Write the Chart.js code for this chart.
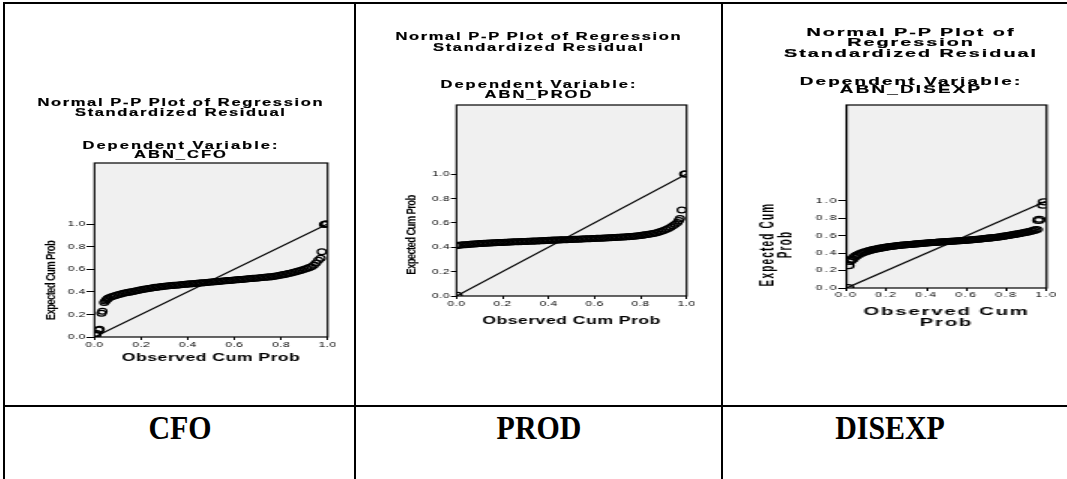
<!DOCTYPE html>
<html>
<head>
<meta charset="utf-8">
<title>Normal P-P Plots of Regression Standardized Residual</title>
<script src="https://cdn.jsdelivr.net/npm/chart.js"></script>
<style>
  html, body { margin: 0; padding: 0; background: #fff; }
  body { width: 1067px; height: 479px; overflow: hidden; position: relative; font-family: 'Liberation Sans', Arial, sans-serif; }
  .rule { position: absolute; background: #000; }
  .rule.h { left: 3px; right: 0; height: 2px; }
  .rule.v { top: 2px; bottom: 0; width: 2px; }
  .fig { position: absolute; top: 0; height: 400px; transform-origin: 0 0; }
  .ttl, .sub { position: absolute; left: 0; right: 0; text-align: center; font-weight: bold; color: #000; white-space: nowrap; -webkit-text-stroke: 0.2px #000; }
  .plot { position: absolute; }
  .plot canvas { display: block; }
  .name { position: absolute; top: 411px; font: bold 34px/34px 'Liberation Serif', 'Times New Roman', serif; color: #000; transform: translateX(-50%) scaleX(0.88); white-space: nowrap; }
</style>
</head>
<body>
  <!-- table rules -->
  <div class="rule h" style="top:2px"></div>
  <div class="rule h" style="top:405px"></div>
  <div class="rule v" style="left:3px"></div>
  <div class="rule v" style="left:354px"></div>
  <div class="rule v" style="left:721px"></div>

  <div class="fig" style="left:4px;width:234.67px;transform:scaleX(1.5)">
    <div class="ttl" style="top:96.6px;font-size:11px;line-height:10.5px;letter-spacing:1.1px;padding-left:1.1px">Normal P-P Plot of Regression<br>Standardized Residual</div>
    <div class="sub" style="top:141.4px;font-size:11px;line-height:9px;letter-spacing:1.35px;padding-left:1.35px">Dependent Variable:<br>ABN_CFO</div>
    <div class="plot" style="left:17.33px;top:150px"><canvas id="cfo" width="204" height="220"></canvas></div>
  </div>

  <div class="fig" style="left:357px;width:241.33px;transform:scaleX(1.5)">
    <div class="ttl" style="top:30.5px;font-size:11px;line-height:11px;letter-spacing:1.1px;padding-left:1.1px">Normal P-P Plot of Regression<br>Standardized Residual</div>
    <div class="sub" style="top:80.3px;font-size:11px;line-height:9.2px;letter-spacing:1.35px;padding-left:1.35px">Dependent Variable:<br>ABN_PROD</div>
    <div class="plot" style="left:25.33px;top:95px"><canvas id="prod" width="200" height="240"></canvas></div>
  </div>

  <div class="fig" style="left:723px;width:207.78px;transform:scaleX(1.8)">
    <div class="ttl" style="top:26.6px;font-size:11px;line-height:10.5px;letter-spacing:1.1px;padding-left:1.1px">Normal P-P Plot of<br>Regression<br>Standardized Residual</div>
    <div class="sub" style="top:76.6px;font-size:10.5px;line-height:8.6px;letter-spacing:1.2px;padding-left:1.2px">Dependent Variable:<br>ABN_DISEXP</div>
    <div class="plot" style="left:17.78px;top:95px"><canvas id="disexp" width="167" height="240"></canvas></div>
  </div>

  <div class="name" style="left:180px">CFO</div>
  <div class="name" style="left:538.5px">PROD</div>
  <div class="name" style="left:890px">DISEXP</div>

<script>
// ticks shared by both axes of every plot
const tickValues = [0, 0.2, 0.4, 0.6, 0.8, 1.0];
const tickLabels = ['0.0', '0.2', '0.4', '0.6', '0.8', '1.0'];
// the 45 degree reference line
const refLine = [0, 1];

// ABN_CFO: observed vs expected cumulative probability
const cfoObserved = [
  0.006, 0.010, 0.018, 0.022, 0.030, 0.034, 0.042, 0.047, 0.052, 0.056,
  0.06, 0.07, 0.08, 0.09, 0.10, 0.11, 0.12, 0.13, 0.14, 0.15,
  0.16, 0.17, 0.18, 0.19, 0.20, 0.21, 0.22, 0.23, 0.24, 0.25,
  0.26, 0.27, 0.28, 0.29, 0.30, 0.31, 0.32, 0.33, 0.34, 0.35,
  0.36, 0.37, 0.38, 0.39, 0.40, 0.41, 0.42, 0.43, 0.44, 0.45,
  0.46, 0.47, 0.48, 0.49, 0.50, 0.51, 0.52, 0.53, 0.54, 0.55,
  0.56, 0.57, 0.58, 0.59, 0.60, 0.61, 0.62, 0.63, 0.64, 0.65,
  0.66, 0.67, 0.68, 0.69, 0.70, 0.71, 0.72, 0.73, 0.74, 0.75,
  0.76, 0.77, 0.78, 0.79, 0.80, 0.81, 0.82, 0.83, 0.84, 0.85,
  0.86, 0.87, 0.88, 0.89, 0.90, 0.91, 0.92, 0.93, 0.94, 0.95,
  0.96, 0.97, 0.975, 0.985, 0.990, 0.994
];
const cfoExpected = [
  0.015, 0.030, 0.062, 0.068, 0.210, 0.228, 0.305, 0.318, 0.330, 0.338,
  0.345, 0.353, 0.360, 0.367, 0.373, 0.379, 0.385, 0.389, 0.393, 0.397,
  0.401, 0.405, 0.410, 0.414, 0.418, 0.422, 0.425, 0.429, 0.432, 0.436,
  0.439, 0.441, 0.444, 0.446, 0.449, 0.451, 0.453, 0.455, 0.457, 0.458,
  0.460, 0.462, 0.464, 0.466, 0.468, 0.470, 0.471, 0.473, 0.475, 0.477,
  0.479, 0.481, 0.482, 0.484, 0.486, 0.488, 0.490, 0.491, 0.493, 0.495,
  0.497, 0.499, 0.500, 0.502, 0.504, 0.506, 0.508, 0.509, 0.511, 0.513,
  0.515, 0.517, 0.519, 0.520, 0.522, 0.524, 0.526, 0.528, 0.530, 0.532,
  0.534, 0.537, 0.540, 0.544, 0.548, 0.552, 0.556, 0.561, 0.565, 0.570,
  0.575, 0.581, 0.587, 0.593, 0.600, 0.607, 0.614, 0.622, 0.635, 0.655,
  0.680, 0.697, 0.755, 0.995, 1.000, 1.000
];

// ABN_PROD
const prodObserved = [
  0.004,
  0.00, 0.01, 0.02, 0.03, 0.04, 0.05, 0.06, 0.07, 0.08, 0.09,
  0.10, 0.11, 0.12, 0.13, 0.14, 0.15, 0.16, 0.17, 0.18, 0.19,
  0.20, 0.21, 0.22, 0.23, 0.24, 0.25, 0.26, 0.27, 0.28, 0.29,
  0.30, 0.31, 0.32, 0.33, 0.34, 0.35, 0.36, 0.37, 0.38, 0.39,
  0.40, 0.41, 0.42, 0.43, 0.44, 0.45, 0.46, 0.47, 0.48, 0.49,
  0.50, 0.51, 0.52, 0.53, 0.54, 0.55, 0.56, 0.57, 0.58, 0.59,
  0.60, 0.61, 0.62, 0.63, 0.64, 0.65, 0.66, 0.67, 0.68, 0.69,
  0.70, 0.71, 0.72, 0.73, 0.74, 0.75, 0.76, 0.77, 0.78, 0.79,
  0.80, 0.81, 0.82, 0.83, 0.84, 0.85, 0.86, 0.87, 0.88, 0.89,
  0.90, 0.91, 0.92, 0.93, 0.94, 0.95, 0.96,
  0.966, 0.971, 0.979, 0.990, 0.994
];
const prodExpected = [
  0.005,
  0.412, 0.416, 0.418, 0.420, 0.421, 0.423, 0.424, 0.426, 0.427, 0.429,
  0.430, 0.431, 0.432, 0.433, 0.434, 0.435, 0.436, 0.437, 0.438, 0.438,
  0.439, 0.440, 0.441, 0.442, 0.443, 0.444, 0.444, 0.445, 0.446, 0.447,
  0.447, 0.448, 0.449, 0.450, 0.450, 0.451, 0.452, 0.453, 0.454, 0.455,
  0.456, 0.457, 0.458, 0.458, 0.459, 0.460, 0.461, 0.461, 0.462, 0.463,
  0.464, 0.465, 0.465, 0.466, 0.467, 0.468, 0.469, 0.469, 0.470, 0.471,
  0.472, 0.473, 0.474, 0.474, 0.475, 0.476, 0.477, 0.478, 0.479, 0.480,
  0.481, 0.482, 0.483, 0.484, 0.485, 0.487, 0.488, 0.490, 0.492, 0.494,
  0.496, 0.499, 0.502, 0.505, 0.508, 0.511, 0.515, 0.519, 0.524, 0.530,
  0.537, 0.545, 0.554, 0.564, 0.576, 0.589, 0.602,
  0.618, 0.635, 0.705, 1.000, 1.000
];

// ABN_DISEXP
const disexpObserved = [
  0.008, 0.010, 0.016, 0.022,
  0.03, 0.04, 0.05, 0.06, 0.07, 0.08, 0.09,
  0.10, 0.11, 0.12, 0.13, 0.14, 0.15, 0.16, 0.17, 0.18, 0.19,
  0.20, 0.21, 0.22, 0.23, 0.24, 0.25, 0.26, 0.27, 0.28, 0.29,
  0.30, 0.31, 0.32, 0.33, 0.34, 0.35, 0.36, 0.37, 0.38, 0.39,
  0.40, 0.41, 0.42, 0.43, 0.44, 0.45, 0.46, 0.47, 0.48, 0.49,
  0.50, 0.51, 0.52, 0.53, 0.54, 0.55, 0.56, 0.57, 0.58, 0.59,
  0.60, 0.61, 0.62, 0.63, 0.64, 0.65, 0.66, 0.67, 0.68, 0.69,
  0.70, 0.71, 0.72, 0.73, 0.74, 0.75, 0.76, 0.77, 0.78, 0.79,
  0.80, 0.81, 0.82, 0.83, 0.84, 0.85, 0.86, 0.87, 0.88, 0.89,
  0.90, 0.91, 0.92, 0.93, 0.94, 0.95,
  0.960, 0.963, 0.983, 0.987
];
const disexpExpected = [
  0.005, 0.255, 0.305, 0.325,
  0.330, 0.355, 0.372, 0.385, 0.396, 0.405, 0.413,
  0.420, 0.427, 0.433, 0.439, 0.444, 0.449, 0.454, 0.458, 0.462, 0.466,
  0.470, 0.473, 0.476, 0.479, 0.482, 0.485, 0.488, 0.490, 0.493, 0.495,
  0.497, 0.499, 0.501, 0.503, 0.505, 0.507, 0.509, 0.511, 0.513, 0.515,
  0.517, 0.519, 0.520, 0.522, 0.524, 0.525, 0.527, 0.528, 0.530, 0.531,
  0.533, 0.534, 0.536, 0.537, 0.539, 0.540, 0.542, 0.543, 0.545, 0.547,
  0.549, 0.551, 0.553, 0.555, 0.557, 0.559, 0.561, 0.564, 0.566, 0.568,
  0.571, 0.573, 0.576, 0.578, 0.581, 0.584, 0.587, 0.590, 0.593, 0.597,
  0.600, 0.604, 0.608, 0.612, 0.616, 0.620, 0.624, 0.628, 0.633, 0.637,
  0.642, 0.647, 0.653, 0.659, 0.665, 0.673,
  0.775, 0.790, 0.950, 0.990
];

Chart.defaults.font.family = "'Liberation Sans', Arial, sans-serif";

// grey plot background with a black frame round the chart area
const plotFrame = {
  id: 'plotFrame',
  beforeDatasetsDraw(chart) {
    const { ctx, chartArea: a } = chart;
    ctx.save();
    ctx.fillStyle = '#f0f0f0';
    ctx.fillRect(a.left, a.top, a.width, a.height);
    ctx.strokeStyle = '#000';
    ctx.lineWidth = 1.2;
    ctx.strokeRect(a.left, a.top, a.width, a.height);
    ctx.restore();
  }
};

// SPSS style lettering: tracked-out text, y title centred on the 0-1 span
const spssText = {
  id: 'spssText',
  beforeDraw(chart, args, opts) {
    chart.ctx.letterSpacing = opts.spacing + 'px';
    const y = chart.scales.y;
    y.titleSpacing = opts.titleSpacing + 'px';
    if (!y.centredTitle) {
      const drawTitle = y.drawTitle;
      y.drawTitle = function () {
        const shift = (this.getPixelForValue(0) + this.getPixelForValue(1)) / 2 - (this.top + this.bottom) / 2;
        this.ctx.save();
        this.ctx.letterSpacing = this.titleSpacing;
        this.ctx.translate(0, shift);
        drawTitle.call(this);
        this.ctx.restore();
      };
      y.centredTitle = true;
    }
  }
};

const useTicks = (scale) => { scale.ticks = tickValues.map(value => ({ value })); };

function ppPlot(id, observed, expected, cfg) {
  const points = observed.map((x, i) => ({ x, y: expected[i] }));
  const diagonal = refLine.map(v => ({ x: v, y: v }));
  const tickFont = { size: cfg.tickSize, lineHeight: 1 };

  return new Chart(document.getElementById(id), {
    type: 'scatter',
    data: {
      datasets: [
        { data: diagonal, showLine: true, borderColor: '#000', borderWidth: 1.2, pointRadius: 0 },
        { data: points, borderColor: '#000', backgroundColor: 'rgba(0,0,0,0)', borderWidth: 1.25, pointRadius: 2.9 }
      ]
    },
    options: {
      responsive: false,
      animation: false,
      events: [],
      layout: { padding: { top: cfg.padTop, right: cfg.padRight, bottom: 0, left: 0 } },
      plugins: {
        legend: { display: false },
        tooltip: { enabled: false },
        spssText: { spacing: cfg.spacing, titleSpacing: cfg.yTitleSpacing }
      },
      scales: {
        x: {
          type: 'linear', min: 0, max: 1,
          afterBuildTicks: useTicks,
          afterFit: (s) => { s.height = cfg.xHeight; s.paddingLeft = 0; s.paddingRight = 0; },
          border: { display: false },
          grid: { drawOnChartArea: false, color: '#000', lineWidth: 1, tickLength: 3 },
          ticks: { autoSkip: false, maxRotation: 0, padding: cfg.xTickPad, color: '#000', font: tickFont, callback: (v, i) => tickLabels[i] },
          title: { display: true, text: cfg.xTitle, color: '#000', font: { size: cfg.xTitleSize, weight: 'bold', lineHeight: 1 }, padding: { top: 0, bottom: cfg.xTitlePad } }
        },
        y: {
          type: 'linear', min: 0, max: cfg.yMax,
          afterBuildTicks: useTicks,
          afterFit: (s) => { s.width = cfg.yWidth; s.paddingTop = 0; s.paddingBottom = 0; },
          border: { display: false },
          grid: { drawOnChartArea: false, color: '#000', lineWidth: 1, tickLength: cfg.yTickLen },
          ticks: { autoSkip: false, padding: cfg.yTickPad, color: '#000', font: tickFont, callback: (v, i) => tickLabels[i] },
          title: { display: true, text: cfg.yTitle, color: '#000', font: { size: cfg.yTitleSize, weight: 'bold', lineHeight: cfg.yTitleLine }, padding: { top: cfg.yTitlePad, bottom: 0 } }
        }
      }
    },
    plugins: [plotFrame, spssText]
  });
}

ppPlot('cfo', cfoObserved, cfoExpected, {
  yMax: 1.54, yWidth: 43.33, xHeight: 33, padTop: 13, padRight: 2.67,
  yTickLen: 5.3, yTickPad: 0.6, xTickPad: 0.5, tickSize: 8, spacing: 0.3,
  xTitle: 'Observed Cum Prob', xTitleSize: 11.8, xTitlePad: 6.1,
  yTitle: 'Expected Cum Prob', yTitleSize: 9.6, yTitleLine: 1, yTitleSpacing: -0.7, yTitlePad: 9.9
});

ppPlot('prod', prodObserved, prodExpected, {
  yMax: 1.566, yWidth: 41.33, xHeight: 39, padTop: 10, padRight: 3.33,
  yTickLen: 3.7, yTickPad: 0.6, xTickPad: 1, tickSize: 8, spacing: 0.3,
  xTitle: 'Observed Cum Prob', xTitleSize: 11.8, xTitlePad: 8.1,
  yTitle: 'Expected Cum Prob', yTitleSize: 9.6, yTitleLine: 1, yTitleSpacing: -0.7, yTitlePad: 6.5
});

ppPlot('disexp', disexpObserved, disexpExpected, {
  yMax: 2.103, yWidth: 50.56, xHeight: 47, padTop: 10, padRight: 2,
  yTickLen: 4.6, yTickPad: 0, xTickPad: 0.5, tickSize: 6.8, spacing: 1,
  xTitle: ['Observed Cum', 'Prob'], xTitleSize: 11.3, xTitlePad: 6.5,
  yTitle: ['Expected Cum', 'Prob'], yTitleSize: 10, yTitleLine: 1.06, yTitleSpacing: 1.2, yTitlePad: 1.5
});
</script>
</body>
</html>
